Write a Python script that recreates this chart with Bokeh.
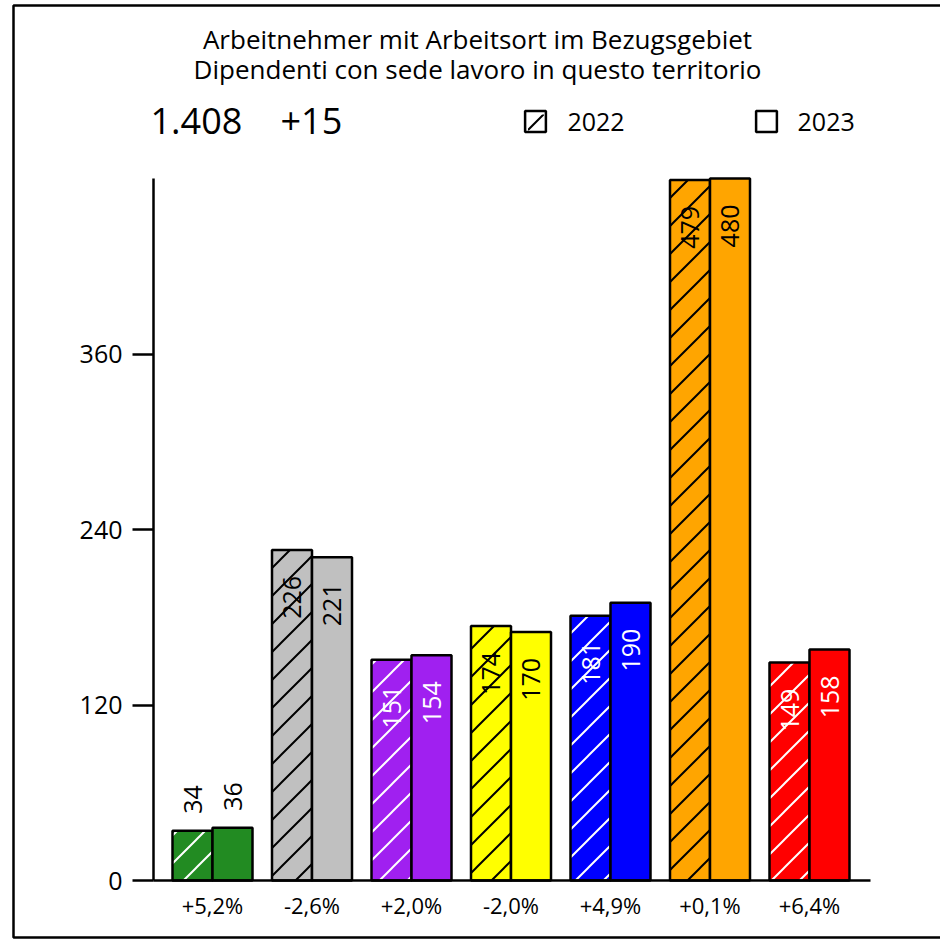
import base64
import numpy as np
from bokeh.plotting import figure
from bokeh.models import (ColumnDataSource, FixedTicker, Label, Legend, LegendItem,
                          BoxAnnotation, Range1d, ImageURLTexture)
from bokeh.core.properties import value
from bokeh.embed import file_html
from bokeh.resources import INLINE

# ---------------- data ----------------
change_labels = ["+5,2%", "-2,6%", "+2,0%", "-2,0%", "+4,9%", "+0,1%", "+6,4%"]
values_2022 = [34, 226, 151, 174, 181, 479, 149]
values_2023 = [36, 221, 154, 170, 190, 480, 158]
bar_colors = ["#228B22", "#C0C0C0", "#A020F0", "#FFFF00", "#0000FF", "#FFA500", "#FF0000"]
contrast_colors = ["white", "black", "white", "black", "white", "black", "white"]
y_ticks = [0, 120, 240, 360]
years = ["2022", "2023"]
total_text = "1.408"
diff_text = "+15"
title_lines = ["Arbeitnehmer mit Arbeitsort im Bezugsgebiet",
               "Dipendenti con sede lavoro in questo territorio"]

FONT = "Open Sans"

# ---------------- geometry (canvas pixels) ----------------
W = H = 940
AX_L, AX_R, AX_T, AX_B = 153, 870, 178, 880      # axis box in pixels
GRP0, GRP_STEP = 212, 99.5                        # first group centre, group step (px)
Y_MAX = 480
PX_PER_UNIT = (AX_B - AX_T) / Y_MAX
BAR_W = 40 / GRP_STEP

X0, X1 = (0 - GRP0) / GRP_STEP, (W - GRP0) / GRP_STEP
Y0, Y1 = (AX_B - H) / PX_PER_UNIT, AX_B / PX_PER_UNIT


def xd(px):
    return (px - GRP0) / GRP_STEP


def yd(py):
    return (AX_B - py) / PX_PER_UNIT


def diag_texture(color, size=28, weight=2, shift=0):
    s = size
    if shift:
        h = shift
        path = f"M-3,{h+3} L{h+3},-3 M{h-3},{s+3} L{s+3},{h-3}"
    else:
        path = f"M-3,3 L3,-3 M0,{s} L{s},0 M{s-3},{s+3} L{s+3},{s-3}"
    svg = (f"<svg xmlns='http://www.w3.org/2000/svg' width='{s}' height='{s}'>"
           f"<path d='{path}' stroke='{color}' stroke-width='{weight}' fill='none'/></svg>")
    url = "data:image/svg+xml;base64," + base64.b64encode(svg.encode()).decode()
    return ImageURLTexture(url=url, repetition="repeat")


HATCH_EXTRA = {"diag_white": diag_texture("white"),
               "diag_black": diag_texture("black"),
               "diag_black_mid": diag_texture("black", shift=14)}

p = figure(width=W, height=H, output_backend="svg", toolbar_location=None,
           x_range=Range1d(X0, X1), y_range=Range1d(Y0, Y1),
           min_border=0, min_border_left=0, min_border_right=0,
           min_border_top=0, min_border_bottom=0)
p.outline_line_color = None
p.xgrid.visible = False
p.ygrid.visible = False
p.background_fill_color = "white"
p.border_fill_color = "white"

n = len(change_labels)
idx = np.arange(n)

src22 = ColumnDataSource(dict(x=idx - BAR_W / 2, top=values_2022, color=bar_colors,
                              pat=["diag_" + c for c in contrast_colors]))
src23 = ColumnDataSource(dict(x=idx + BAR_W / 2, top=values_2023, color=bar_colors))

# legend proxies: zero-size bars that carry the legend styling
r22 = p.vbar(x=[0], bottom=[0], top=[0], width=0, fill_color=None,
             line_color="black", line_width=2.5)
r23 = p.vbar(x=[0], bottom=[0], top=[0], width=0, fill_color="white",
             line_color="black", line_width=2.5)

# hatch shown inside the 2022 legend key (legend key itself is transparent)
LEG_BOX = (527.5, 543.5, 114, 130)   # left, right, top, bottom (px)
leg_src = ColumnDataSource(dict(left=[xd(LEG_BOX[0])], right=[xd(LEG_BOX[1])],
                                top=[yd(LEG_BOX[2])], bottom=[yd(LEG_BOX[3])],
                                pat=["diag_black_mid"], col=["white"]))
p.quad(left="left", right="right", top="top", bottom="bottom", source=leg_src,
       fill_color="col", line_color=None, hatch_pattern="pat", hatch_extra=HATCH_EXTRA)

p.vbar(x="x", top="top", width=BAR_W, source=src22, fill_color="color",
       line_color="black", line_width=2.5, hatch_pattern="pat", hatch_extra=HATCH_EXTRA)
p.vbar(x="x", top="top", width=BAR_W, source=src23, fill_color="color",
       line_color="black", line_width=2.5)

# value labels
xs_in, ys_in, t_in, c_in = [], [], [], []
xs_out, ys_out, t_out = [], [], []
for xs, vals in ((idx - BAR_W / 2, values_2022), (idx + BAR_W / 2, values_2023)):
    for i, v in enumerate(vals):
        if v < 60:
            xs_out.append(xs[i]); ys_out.append(v); t_out.append(str(v))
        else:
            xs_in.append(xs[i]); ys_in.append(v); t_in.append(str(v)); c_in.append(contrast_colors[i])

p.text(x="x", y="y", text="t", source=ColumnDataSource(dict(x=xs_in, y=ys_in, t=t_in, c=c_in)),
       angle=np.pi / 2, text_align="right", text_baseline="middle", y_offset=26,
       text_color="c", text_font=value(FONT), text_font_size="25px")
p.text(x="x", y="y", text="t", source=ColumnDataSource(dict(x=xs_out, y=ys_out, t=t_out)),
       angle=np.pi / 2, text_align="left", text_baseline="middle", y_offset=-17,
       text_color="black", text_font=value(FONT), text_font_size="25px")

# axes (fixed inside the full-canvas frame)
p.yaxis.fixed_location = xd(AX_L)
p.yaxis.bounds = (0, Y_MAX)
p.yaxis.ticker = FixedTicker(ticks=y_ticks)
p.yaxis.major_tick_out = 21
p.yaxis.major_tick_in = 0
p.yaxis.minor_tick_line_color = None
p.yaxis.axis_line_width = 2.5
p.yaxis.major_tick_line_width = 2.5
p.yaxis.axis_line_color = "black"
p.yaxis.major_tick_line_color = "black"
p.yaxis.major_label_text_font = FONT
p.yaxis.major_label_text_font_size = "25px"
p.yaxis.major_label_text_color = "black"
p.yaxis.major_label_standoff = 10

p.xaxis.fixed_location = 0
p.xaxis.bounds = (xd(AX_L), xd(AX_R))
p.xaxis.ticker = FixedTicker(ticks=list(idx))
p.xaxis.major_label_overrides = {int(i): lab for i, lab in zip(idx, change_labels)}
p.xaxis.major_tick_out = 0
p.xaxis.major_tick_in = 0
p.xaxis.minor_tick_line_color = None
p.xaxis.axis_line_width = 2.5
p.xaxis.axis_line_color = "black"
p.xaxis.major_label_text_font = FONT
p.xaxis.major_label_text_font_size = "22px"
p.xaxis.major_label_text_color = "black"
p.xaxis.major_label_standoff = 9

legend = Legend(items=[LegendItem(label=years[0], renderers=[r22]),
                       LegendItem(label=years[1], renderers=[r23])],
                orientation="horizontal", location=(522.4, H - 138),
                glyph_width=26, glyph_height=26, label_standoff=19, spacing=128,
                padding=0, margin=0, border_line_color=None, background_fill_alpha=0,
                label_text_font=FONT, label_text_font_size="25px", label_height=26,
                label_text_color="black")
p.add_layout(legend)

# titles and header numbers (baseline correction for Bokeh's text box)
for line, base in zip(title_lines, (47, 77)):
    p.add_layout(Label(x=xd(477), y=yd(base - 9), text=line, text_align="center",
                       text_baseline="alphabetic", text_font=FONT, text_font_size="26px",
                       text_color="black"))
for txt, left in ((total_text, 150), (diff_text, 280)):
    p.add_layout(Label(x=xd(left), y=yd(133 - 13), text=txt, text_align="left",
                       text_baseline="alphabetic", text_font=FONT, text_font_size="36px",
                       text_color="black"))

# outer border
p.add_layout(BoxAnnotation(left=xd(13), right=xd(990), top=yd(5), bottom=yd(937),
                           fill_alpha=0, line_color="black", line_alpha=1, line_width=2.5))

with open("out.html", "w") as f:
    f.write(file_html(p, INLINE))
